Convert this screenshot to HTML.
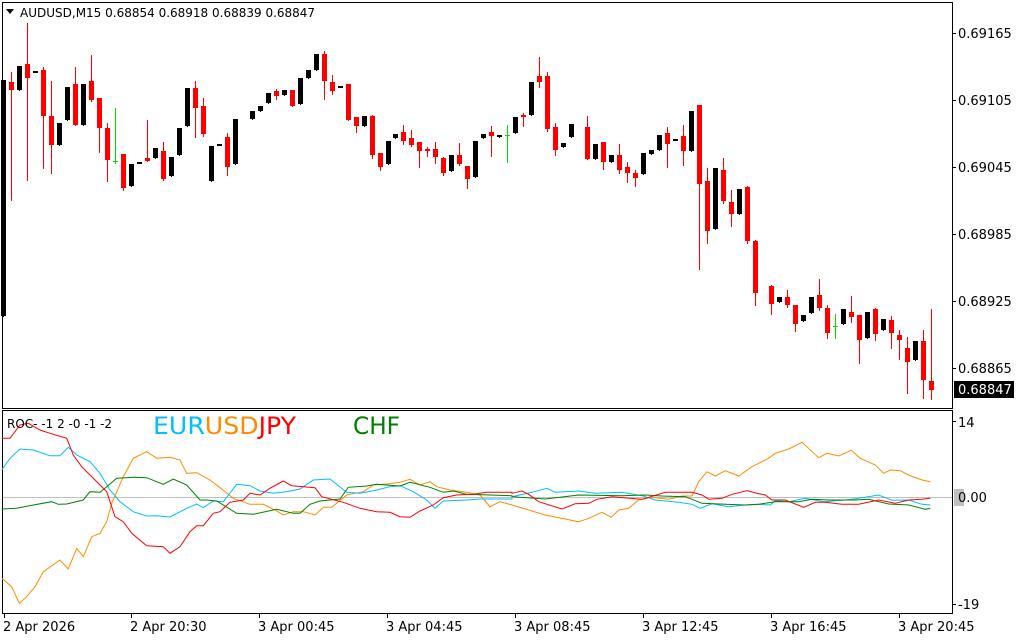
<!DOCTYPE html>
<html><head><meta charset="utf-8"><style>
html,body{margin:0;padding:0;background:#fff;width:1024px;height:640px;overflow:hidden}
svg{display:block;font-family:Tahoma,"DejaVu Sans","Liberation Sans",sans-serif}
</style></head><body>
<svg id="s" width="1024" height="640" xmlns="http://www.w3.org/2000/svg">
<rect x="0" y="0" width="1024" height="640" fill="#fff"/>
<rect x="2.5" y="2.5" width="950" height="406" fill="none" stroke="#000"/>
<rect x="2.5" y="410.5" width="950" height="203" fill="none" stroke="#000"/>
<g id="c"></g>
<line x1="3" y1="497.5" x2="952" y2="497.5" stroke="#c0c0c0"/>
<g id="l" fill="none" stroke-width="1"></g>
<polygon points="6,9 14,9 10,14" fill="#000"/>
<text x="20" y="17" font-size="12" fill="#000">AUDUSD,M15  0.68854 0.68918 0.68839 0.68847</text>
<g font-size="13" fill="#000">
<text x="958" y="38">0.69165</text>
<text x="958" y="105">0.69105</text>
<text x="958" y="172">0.69045</text>
<text x="958" y="239">0.68985</text>
<text x="958" y="306">0.68925</text>
<text x="958" y="373">0.68865</text>
<text x="958" y="427">14</text>
<text x="958" y="609">-19</text>
</g>
<g stroke="#000">
<line x1="952" y1="33.5" x2="956" y2="33.5"/><line x1="952" y1="100.5" x2="956" y2="100.5"/>
<line x1="952" y1="167.5" x2="956" y2="167.5"/><line x1="952" y1="234.5" x2="956" y2="234.5"/>
<line x1="952" y1="301.5" x2="956" y2="301.5"/><line x1="952" y1="368.5" x2="956" y2="368.5"/>
<line x1="952" y1="421.5" x2="956" y2="421.5"/><line x1="952" y1="604.5" x2="956" y2="604.5"/>
</g>
<rect x="954" y="381" width="60" height="17" fill="#000"/>
<text x="958" y="394" font-size="13" fill="#fff">0.68847</text>
<rect x="954" y="489" width="10" height="17" fill="#c0c0c0"/>
<text x="958" y="502" font-size="13" fill="#000">0.00</text>
<text x="7" y="428" font-size="12" fill="#000">ROC- -1 2 -0 -1 -2</text>
<text x="153" y="434" font-size="24" textLength="143" lengthAdjust="spacingAndGlyphs"><tspan fill="#00bfff">EUR</tspan><tspan fill="#ff8c00">USD</tspan><tspan fill="#ff0000">JPY</tspan></text>
<text x="353" y="434" font-size="24" fill="#008000" textLength="47" lengthAdjust="spacingAndGlyphs">CHF</text>
<g id="t" font-size="13" fill="#000"></g>
</svg>
<script>
var NS="http://www.w3.org/2000/svg";
function el(p,n,a){var e=document.createElementNS(NS,n);for(var k in a)e.setAttribute(k,a[k]);p.appendChild(e);return e;}
var C=[
[3,'k',80,316,80,316],[11,'r',72,200,82,90],[19,'k',66,90,66,90],[27,'r',23,180,64,78],[35,'k',72,72,71,73],
[43,'r',67,168,70,116],[51,'r',81,173,116,145],[59,'k',123,145,123,145],[67,'k',87,120,87,120],[75,'r',67,125,84,125],
[83,'k',84,125,84,125],[91,'r',55,101,81,100],[99,'r',98,152,98,128],[107,'r',123,181,128,160],[115,'g',108,163,161,161],
[123,'r',154,190,154,188],[131,'k',164,186,164,186],[139,'k',163,163,162,164],[147,'r',120,161,158,161],[155,'k',148,158,148,158],
[163,'r',142,180,151,179],[171,'k',157,176,157,176],[179,'k',128,155,128,155],[187,'k',88,126,88,126],[195,'r',81,137,88,108],
[203,'r',98,136,106,134],[211,'k',146,181,146,181],[219,'k',145,145,144,146],[227,'r',133,175,137,167],[235,'k',119,164,119,164],
[252,'k',111,119,111,119],[260,'k',106,111,106,111],[268,'k',93,103,93,103],[276,'r',89,99,91,96],[284,'k',90,95,90,95],
[292,'r',90,106,90,106],[300,'k',78,104,78,104],[308,'k',70,78,70,78],[316,'k',54,70,54,70],[324,'r',51,99,54,81],
[332,'r',75,94,82,91],[340,'k',87,87,86,88],[348,'r',84,120,84,120],[356,'r',117,132,117,126],[364,'k',116,126,116,126],
[372,'r',115,158,116,155],[380,'r',153,170,153,167],[388,'k',141,164,141,164],[395,'k',134,138,134,138],[403,'r',125,144,132,141],
[411,'r',130,146,138,145],[419,'r',142,167,142,151],[427,'r',147,156,149,151],[435,'r',142,163,149,157],[443,'r',157,175,158,173],
[451,'k',155,171,155,171],[459,'r',143,165,155,164],[467,'r',166,188,166,179],[475,'k',141,177,141,177],[483,'k',134,138,134,138],
[491,'r',126,156,132,136],[499,'k',135,137,135,137],[507,'g',125,162,135,135],
[515,'k',117,133,117,133],[523,'r',113,126,115,116],[531,'k',82,115,82,115],[539,'r',57,87,76,82],[547,'r',72,131,76,129],
[555,'r',123,155,127,150],[563,'k',143,147,143,147],[571,'k',124,137,124,137],[587,'r',116,159,127,159],[595,'k',144,159,144,159],
[603,'r',142,169,142,162],[611,'k',155,162,155,162],[619,'r',144,173,155,170],[627,'r',162,182,167,173],[635,'r',170,186,173,178],
[643,'k',153,174,153,174],[651,'k',150,154,150,154],[659,'k',135,150,135,150],[667,'r',127,167,133,144],[675,'k',140,140,139,141],
[683,'r',125,165,136,151],[691,'k',111,151,111,151],[699,'r',105,269,105,184],[707,'r',168,243,181,231],[715,'k',168,229,168,229],
[723,'r',158,203,170,201],[731,'r',190,226,202,214],[739,'k',189,214,189,214],[747,'r',186,243,187,241],[755,'r',240,305,241,293],
[771,'r',285,314,286,304],[779,'k',297,302,297,302],[787,'r',290,307,297,305],[795,'r',305,331,305,324],[803,'k',315,321,315,321],
[811,'k',297,313,297,313],[819,'r',279,310,295,308],[827,'r',305,338,308,333],[835,'g',314,338,326,326],[843,'k',309,324,309,324],
[851,'r',296,322,312,317],[859,'r',315,363,315,340],[867,'k',312,338,312,338],[875,'r',308,340,309,334],[883,'k',319,330,319,330],
[891,'r',316,348,320,333],[899,'r',330,359,335,340],[907,'r',337,393,348,362],[915,'k',341,360,341,360],[923,'r',330,398,341,380],
[931,'r',309,399,381,390]];
var g=document.getElementById('c');
C.forEach(function(c){var col=c[1]=='r'?'#ff0000':(c[1]=='g'?'#00e000':'#000');
 el(g,'line',{x1:c[0]+.5,x2:c[0]+.5,y1:c[2],y2:c[3]+1,stroke:col});
 if(c[1]=='g'){el(g,'line',{x1:c[0]-2,x2:c[0]+3,y1:c[4]+.5,y2:c[4]+.5,stroke:col});}
 else el(g,'rect',{x:c[0]-2,y:c[4],width:5,height:Math.max(2,c[5]-c[4]),fill:col});
});
function P(a,b){var o=[];for(var i=0;i<a.length;i+=2)o.push((a[i]/3).toFixed(1)+','+(405+a[i+1]/3).toFixed(1));for(var i=0;i<b.length;i+=2)o.push((512+b[i]/3).toFixed(1)+','+(405+b[i+1]/3).toFixed(1));return o.join(' ');}
var L={
'#ff0000':P([5,100,30,100,60,60,85,55,120,75,150,85,200,100,220,150,245,185,270,210,300,240,320,260,345,335,370,350,395,385,440,422,490,425,510,445,540,425,570,380,590,362,610,362,640,325,660,320,690,292,730,285,750,265,780,270,810,250,850,228,875,242,945,248,965,275,1030,292,1080,310,1130,320,1170,322,1200,335,1230,337,1260,318,1300,300,1330,278,1370,270,1420,268,1460,262,1536,262],
[0,265,30,258,50,268,80,290,150,312,190,296,230,295,255,283,300,275,390,283,460,262,540,262,570,270,590,283,630,280,660,268,705,257,740,266,760,270,780,285,820,285,875,307,910,292,940,292,990,298,1040,298,1100,285,1150,295,1190,285,1230,283,1255,280]),
'#00bfff':P([5,195,30,160,60,132,100,135,150,152,180,152,205,127,230,150,270,170,300,205,330,255,360,290,400,320,440,333,470,332,510,336,560,310,590,297,610,308,640,288,670,290,710,238,750,242,780,258,820,265,860,260,900,252,940,225,990,222,1040,262,1080,265,1130,255,1170,245,1200,242,1240,260,1280,285,1305,310,1330,288,1400,285,1440,282,1536,282],
[0,275,60,262,105,250,130,262,200,258,250,265,330,262,390,272,430,285,500,292,540,298,565,310,600,296,650,305,700,300,740,298,775,300,790,287,830,290,880,280,935,290,1000,285,1040,280,1100,270,1140,286,1190,285,1230,298,1255,300]),
'#ff8c00':P([5,520,35,545,58,595,80,575,105,545,130,500,180,465,205,492,230,430,250,455,275,395,300,385,320,350,335,295,355,250,370,215,400,160,440,140,470,160,510,157,540,165,560,205,590,203,630,225,660,248,700,280,750,298,790,298,830,318,850,330,880,320,910,320,945,330,970,307,995,307,1040,270,1090,260,1120,240,1160,237,1200,232,1230,223,1260,240,1290,230,1310,245,1350,255,1400,262,1440,270,1470,305,1500,290,1536,300],
[0,300,100,330,200,350,230,340,270,322,298,337,320,315,350,310,380,285,420,277,470,283,510,273,540,273,560,230,585,200,610,213,640,197,680,213,720,185,770,160,790,145,830,132,870,112,920,158,945,145,980,153,1018,136,1045,160,1090,180,1115,205,1135,195,1165,197,1190,210,1230,225,1255,230]),
'#008000':P([5,312,50,310,100,300,155,290,175,298,200,297,250,285,270,260,300,262,320,245,350,220,400,217,440,218,490,238,520,222,560,240,600,285,620,285,650,288,710,325,760,328,830,313,880,325,900,325,930,298,960,288,1020,282,1045,247,1100,243,1130,238,1200,243,1230,232,1290,247,1330,262,1360,258,1400,268,1536,272],
[0,275,100,282,200,270,330,272,400,270,450,273,520,275,570,295,640,298,700,300,740,298,790,290,860,290,900,283,950,285,1030,285,1070,283,1130,297,1190,300,1240,313,1255,310])};
var lg=document.getElementById('l');
['#ff8c00','#00bfff','#008000','#ff0000'].forEach(function(k){el(lg,'polyline',{points:L[k],stroke:k});});
var T=[[4,'2 Apr 2026'],[131,'2 Apr 20:30'],[259,'3 Apr 00:45'],[387,'3 Apr 04:45'],[515,'3 Apr 08:45'],[643,'3 Apr 12:45'],[771,'3 Apr 16:45'],[899,'3 Apr 20:45']];
var tg=document.getElementById('t');
T.forEach(function(t){el(tg,'line',{x1:t[0]+.5,x2:t[0]+.5,y1:613,y2:618,stroke:'#000'});var e=el(tg,'text',{x:t[0]-1,y:631});e.textContent=t[1];});
</script>
</body></html>
